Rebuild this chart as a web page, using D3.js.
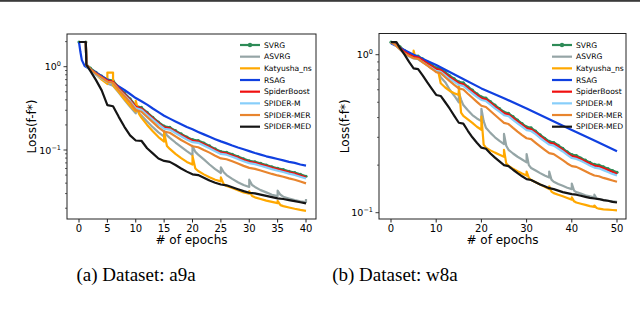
<!DOCTYPE html>
<html>
<head>
<meta charset="utf-8">
<script src="https://cdn.jsdelivr.net/npm/d3@7"></script>
<style>
  body { margin: 0; background: #fff; }
  svg { display: block; }
</style>
</head>
<body>
<div id="chart"></div>
<script>

/* DATA ------------------------------------------------------------ */

const names = ["SVRG", "ASVRG", "Katyusha_ns", "RSAG", "SpiderBoost", "SPIDER-M", "SPIDER-MER", "SPIDER-MED"];
const colors = ["#2e8b57", "#95a5a6", "#ffa800", "#1040e0", "#f01010", "#87cefa", "#e8852e", "#151515"];

// (a) a9a
const xTicksA = [0, 5, 10, 15, 20, 25, 30, 35, 40];
const epochsA = [0, 1.2, 1.3, 2, 3, 4, 5, 6, 7, 8, 9, 10, 11, 12, 13, 14, 15, 16, 17, 18, 19, 20,
                 21, 22, 23, 24, 25, 26, 27, 28, 29, 30, 31, 32, 33, 34, 35, 36, 37, 38, 39, 40];
const svrgA = [1.98, 1.98, 1.07, 0.96, 0.855, 0.77, 0.70, 0.68, 0.567, 0.484, 0.412, 0.34, 0.324, 0.283, 0.247, 0.216,
               0.193, 0.187, 0.171, 0.156, 0.143, 0.133, 0.13, 0.121, 0.112, 0.103, 0.096, 0.094, 0.0886, 0.0834, 0.0783,
               0.0742, 0.0721, 0.069, 0.0659, 0.0628, 0.0604, 0.0581, 0.0556, 0.0536, 0.051, 0.0484];
const spiderBoostA = [1.98, 1.98, 1.05, 0.93, 0.83, 0.75, 0.68, 0.66, 0.55, 0.47, 0.4, 0.33, 0.315, 0.275, 0.24, 0.21,
               0.187, 0.182, 0.166, 0.151, 0.139, 0.129, 0.126, 0.117, 0.109, 0.1, 0.093, 0.091, 0.086, 0.081, 0.076,
               0.072, 0.07, 0.067, 0.064, 0.061, 0.0586, 0.0564, 0.054, 0.052, 0.0495, 0.047];
const spiderMA = [1.98, 1.98, 1.03, 0.9, 0.8, 0.724, 0.656, 0.637, 0.531, 0.454, 0.386, 0.318, 0.304, 0.265, 0.232, 0.203,
               0.18, 0.176, 0.16, 0.146, 0.134, 0.124, 0.122, 0.113, 0.105, 0.0965, 0.0897, 0.0878, 0.083, 0.0782, 0.0733,
               0.0695, 0.0676, 0.0647, 0.0618, 0.0589, 0.0565, 0.0544, 0.0521, 0.0502, 0.0478, 0.0454];
const spiderMERA = [1.98, 1.98, 1.04, 0.93, 0.82, 0.74, 0.66, 0.64, 0.525, 0.445, 0.372, 0.302, 0.288, 0.249, 0.216, 0.187,
               0.166, 0.161, 0.146, 0.132, 0.121, 0.111, 0.108, 0.1, 0.093, 0.0855, 0.0793, 0.0775, 0.0731, 0.0688, 0.0645,
               0.061, 0.0593, 0.0567, 0.0541, 0.0516, 0.0495, 0.0477, 0.0456, 0.044, 0.0418, 0.0398];
const spiderMEDA = [1.98, 1.98, 1.05, 0.89, 0.69, 0.52, 0.345, 0.335, 0.25, 0.19, 0.15, 0.13, 0.129, 0.105, 0.091, 0.079,
               0.074, 0.072, 0.066, 0.06, 0.055, 0.051, 0.05, 0.0465, 0.043, 0.0405, 0.0385, 0.0377, 0.0357, 0.0338, 0.0321,
               0.0307, 0.0302, 0.0291, 0.0281, 0.0272, 0.0263, 0.0258, 0.025, 0.0243, 0.0236, 0.0229];
const rsagEpochsA = [0, 0.25, 0.5, 1, 2, 3, 4, 5, 6, 7, 8, 9, 10, 11, 12, 13, 14, 15, 16, 17, 18, 19, 20,
                 21, 22, 23, 24, 25, 26, 27, 28, 29, 30, 31, 32, 33, 34, 35, 36, 37, 38, 39, 40];
const rsagA = [1.98, 1.5, 1.2, 1.02, 0.93, 0.85, 0.77, 0.7, 0.64, 0.58, 0.525, 0.47, 0.42, 0.385, 0.35, 0.315, 0.285,
               0.258, 0.238, 0.22, 0.204, 0.189, 0.177, 0.165, 0.154, 0.144, 0.135, 0.127, 0.12, 0.113, 0.107, 0.102,
               0.097, 0.092, 0.088, 0.084, 0.081, 0.078, 0.075, 0.072, 0.07, 0.067, 0.065];
const katyushaA = [[0, 1.98], [1.2, 1.98], [1.3, 1.05], [2, 0.93], [3, 0.8], [4, 0.7], [5, 0.62], [5, 0.85], [6, 0.85],
  [6, 0.6], [7, 0.5], [8, 0.41], [9, 0.34], [10, 0.29], [10, 0.39], [10.6, 0.27], [11, 0.245], [12, 0.2], [13, 0.168],
  [14, 0.143], [15, 0.126], [15, 0.162], [15.5, 0.112], [16, 0.103], [17, 0.09], [18, 0.08], [19, 0.072], [20, 0.067],
  [20, 0.085], [20.5, 0.06], [21, 0.056], [22, 0.051], [23, 0.047], [24, 0.044], [25, 0.042], [25, 0.047], [25.5, 0.039],
  [26, 0.037], [27, 0.035], [28, 0.033], [29, 0.031], [30, 0.030], [30, 0.032], [30.5, 0.028], [31, 0.027], [32, 0.0258],
  [33, 0.0247], [34, 0.0238], [35, 0.023], [35, 0.0245], [35.5, 0.0218], [36, 0.0212], [37, 0.0204], [38, 0.0197],
  [39, 0.0191], [40, 0.0186]];
const asvrgA = [[0, 1.98], [1.2, 1.98], [1.3, 1.05], [2, 0.93], [3, 0.82], [4, 0.72], [5, 0.63], [6, 0.59], [7, 0.49],
  [8, 0.4], [9, 0.33], [10, 0.275], [10, 0.33], [10.5, 0.28], [11, 0.26], [12, 0.22], [13, 0.188], [14, 0.163], [15, 0.145],
  [15, 0.17], [15.5, 0.15], [16, 0.14], [17, 0.123], [18, 0.109], [19, 0.097], [20, 0.087], [20, 0.112], [20.5, 0.095],
  [21, 0.088], [22, 0.077], [23, 0.067], [24, 0.059], [25, 0.053], [25, 0.062], [25.5, 0.054], [26, 0.05], [27, 0.045],
  [28, 0.041], [29, 0.038], [30, 0.036], [30, 0.044], [30.5, 0.038], [31, 0.036], [32, 0.033], [33, 0.031], [34, 0.029],
  [35, 0.028], [35, 0.0325], [35.5, 0.029], [36, 0.0275], [37, 0.0262], [38, 0.025], [39, 0.0242], [40, 0.0237], [40, 0.0258]];

// (b) w8a
const xTicksB = [0, 10, 20, 30, 40, 50];
const epochsB = d3.range(0, 51);
const svrgB = [1.2, 1.19, 1.12, 1.06, 1.02, 0.99, 0.98, 0.94, 0.9, 0.862, 0.826, 0.816, 0.775, 0.734, 0.704, 0.673, 0.663,
               0.627, 0.597, 0.566, 0.541, 0.532, 0.505, 0.479, 0.456, 0.434, 0.426, 0.405, 0.385, 0.366, 0.349, 0.344,
               0.328, 0.311, 0.296, 0.283, 0.278, 0.267, 0.255, 0.243, 0.233, 0.23, 0.222, 0.215, 0.208, 0.202, 0.2,
               0.195, 0.19, 0.185, 0.18];
const spiderBoostB = [1.2, 1.17, 1.1, 1.04, 1.0, 0.97, 0.96, 0.92, 0.88, 0.845, 0.81, 0.8, 0.76, 0.72, 0.69, 0.66, 0.65,
               0.615, 0.585, 0.555, 0.53, 0.522, 0.495, 0.47, 0.447, 0.425, 0.418, 0.397, 0.377, 0.359, 0.342, 0.337,
               0.322, 0.305, 0.29, 0.277, 0.273, 0.262, 0.25, 0.238, 0.228, 0.225, 0.218, 0.211, 0.204, 0.198, 0.196,
               0.191, 0.186, 0.181, 0.176];
const spiderMB = [1.2, 1.15, 1.08, 1.015, 0.975, 0.946, 0.936, 0.897, 0.858, 0.824, 0.79, 0.78, 0.741, 0.702, 0.673, 0.644,
               0.634, 0.6, 0.57, 0.541, 0.517, 0.509, 0.483, 0.458, 0.436, 0.414, 0.408, 0.387, 0.368, 0.35, 0.333, 0.329,
               0.314, 0.297, 0.283, 0.27, 0.266, 0.255, 0.244, 0.232, 0.222, 0.219, 0.213, 0.206, 0.199, 0.193, 0.191,
               0.186, 0.181, 0.176, 0.172];
const spiderMERB = [1.2, 1.15, 1.08, 1.02, 0.98, 0.95, 0.94, 0.895, 0.855, 0.815, 0.775, 0.765, 0.72, 0.68, 0.645, 0.612,
               0.602, 0.566, 0.534, 0.503, 0.475, 0.467, 0.44, 0.415, 0.392, 0.37, 0.364, 0.344, 0.326, 0.31, 0.296, 0.292,
               0.277, 0.263, 0.25, 0.238, 0.235, 0.225, 0.215, 0.205, 0.197, 0.195, 0.189, 0.183, 0.177, 0.172, 0.17,
               0.166, 0.163, 0.16, 0.157];
const medEpochsB = [0, 1.2, 2, 3, 4, 5, 6, 7, 8, 9, 10, 11, 12, 13, 14, 15, 16, 17, 18, 19, 20, 21, 22, 23, 24, 25,
               26, 27, 28, 29, 30, 31, 32, 33, 34, 35, 36, 37, 38, 39, 40, 41, 42, 43, 44, 45, 46, 47, 48, 49, 50];
const spiderMEDB = [1.2, 1.2, 1.1, 1.0, 0.9, 0.82, 0.81, 0.74, 0.67, 0.61, 0.556, 0.548, 0.5, 0.455, 0.41, 0.371, 0.366,
               0.33, 0.3, 0.277, 0.258, 0.254, 0.237, 0.223, 0.211, 0.2, 0.197, 0.187, 0.178, 0.17, 0.163, 0.161, 0.156,
               0.151, 0.147, 0.143, 0.141, 0.138, 0.135, 0.133, 0.131, 0.13, 0.128, 0.126, 0.124, 0.123, 0.122, 0.12,
               0.119, 0.117, 0.116];
const rsagEpochsB = [0, 5, 10, 15, 20, 25, 30, 35, 40, 45, 50];
const rsagB = [1.18, 1.0, 0.86, 0.725, 0.612, 0.53, 0.457, 0.39, 0.334, 0.286, 0.245];
const katyushaB = [[0, 1.2], [1, 1.17], [2, 1.1], [3, 1.05], [4, 1.0], [5, 0.97], [5, 1.06], [5.4, 0.96], [6, 0.94],
  [7, 0.9], [8, 0.86], [9, 0.82], [10, 0.79], [10.5, 0.77], [11, 0.66], [12, 0.62], [13, 0.59], [14, 0.57], [15, 0.555],
  [15, 0.64], [15.5, 0.43], [16, 0.41], [17, 0.39], [18, 0.37], [19, 0.35], [20, 0.335], [20, 0.405], [20.5, 0.27],
  [21, 0.258], [22, 0.248], [23, 0.24], [24, 0.233], [25, 0.226], [25, 0.25], [25.5, 0.205], [26, 0.198], [27, 0.19],
  [28, 0.183], [29, 0.177], [30, 0.172], [30, 0.182], [30.5, 0.166], [31, 0.161], [32, 0.156], [33, 0.151], [34, 0.146],
  [35, 0.141], [35, 0.147], [35.5, 0.136], [36, 0.133], [37, 0.13], [38, 0.127], [39, 0.124], [40, 0.121], [40, 0.125],
  [40.5, 0.118], [41, 0.116], [42, 0.114], [43, 0.112], [44, 0.11], [45, 0.109], [45, 0.111], [45.5, 0.107], [46, 0.106],
  [47, 0.105], [48, 0.1045], [49, 0.104], [50, 0.1035]];
const asvrgB = [[0, 1.2], [1, 1.16], [2, 1.09], [3, 1.03], [4, 0.99], [5, 0.955], [6, 0.94], [7, 0.9], [8, 0.86],
  [9, 0.82], [10, 0.785], [10.5, 0.77], [11, 0.72], [12, 0.67], [13, 0.6], [14, 0.55], [15, 0.5], [15, 0.58], [15.5, 0.52],
  [16, 0.48], [17, 0.445], [18, 0.415], [19, 0.395], [20, 0.38], [20, 0.455], [20.5, 0.38], [21, 0.345], [22, 0.32],
  [23, 0.3], [24, 0.285], [25, 0.272], [25, 0.315], [25.5, 0.265], [26, 0.25], [27, 0.237], [28, 0.226], [29, 0.217],
  [30, 0.208], [30, 0.235], [30.5, 0.2], [31, 0.192], [32, 0.185], [33, 0.178], [34, 0.172], [35, 0.167], [35, 0.182],
  [35.5, 0.162], [36, 0.157], [37, 0.152], [38, 0.148], [39, 0.144], [40, 0.141], [40, 0.153], [40.5, 0.138], [41, 0.135],
  [42, 0.132], [43, 0.129], [44, 0.127], [45, 0.125], [45, 0.13], [45.5, 0.123], [46, 0.122], [47, 0.12], [48, 0.119],
  [49, 0.118], [50, 0.117]];

const zip = (xs, ys) => ys.map((y, i) => [xs[i], y]);

/* LAYOUT ---------------------------------------------------------- */

const width = 640, height = 328;

const panels = [
  {
    box: {left: 67, right: 316, top: 34, bottom: 219},
    xAnchor: [0, 40], xPx: [79, 306],
    yPx: [150, 66.7],          // pixel of 0.1 and 1
    xTicks: xTicksA,
    legend: {x: 240, y: 45},
    labelX: 32,
    caption: "(a) Dataset: a9a", captionX: 136,
    series: [zip(epochsA, svrgA), asvrgA, katyushaA, zip(rsagEpochsA, rsagA),
             zip(epochsA, spiderBoostA), zip(epochsA, spiderMA), zip(epochsA, spiderMERA), zip(epochsA, spiderMEDA)]
  },
  {
    box: {left: 379, right: 626, top: 33.5, bottom: 219},
    xAnchor: [0, 50], xPx: [391, 617],
    yPx: [212.7, 54.7],
    xTicks: xTicksB,
    legend: {x: 552, y: 45},
    labelX: 345,
    caption: "(b) Dataset: w8a", captionX: 395,
    series: [zip(epochsB, svrgB), asvrgB, katyushaB, zip(rsagEpochsB, rsagB),
             zip(epochsB, spiderBoostB), zip(epochsB, spiderMB), zip(epochsB, spiderMERB), zip(medEpochsB, spiderMEDB)]
  }
];

const svg = d3.select("#chart")
  .append("svg")
  .attr("width", width)
  .attr("height", height)
  .style("font-family", "'DejaVu Sans', sans-serif");

// rule at the top of the page
svg.append("rect")
  .attr("x", 0).attr("y", 0)
  .attr("width", width).attr("height", 1.8)
  .attr("fill", "#3a3a3a");

panels.forEach((p, k) => drawPanel(p, k));

/* DRAW ------------------------------------------------------------ */
function drawPanel(p, k) {
  const b = p.box;
  const x = d3.scaleLinear().domain(p.xAnchor).range(p.xPx);
  const y = d3.scaleLog().domain([0.1, 1]).range(p.yPx);

  const g = svg.append("g");

  g.append("clipPath").attr("id", "clip" + k)
    .append("rect")
    .attr("x", b.left).attr("y", b.top)
    .attr("width", b.right - b.left).attr("height", b.bottom - b.top);

  // lines
  const line = d3.line().x(d => x(d[0])).y(d => y(d[1]));
  const plot = g.append("g").attr("clip-path", `url(#clip${k})`);

  p.series.forEach((s, i) => {
    plot.append("path")
      .datum(s)
      .attr("d", line)
      .attr("fill", "none")
      .attr("stroke", colors[i])
      .attr("stroke-width", 2.2)
      .attr("stroke-linejoin", "round");
    if (i === 0) {
      plot.selectAll(".mk" + k)
        .data(s)
        .join("circle")
        .attr("class", "mk" + k)
        .attr("cx", d => x(d[0]))
        .attr("cy", d => y(d[1]))
        .attr("r", 1.6)
        .attr("fill", colors[0]);
    }
  });

  // frame
  g.append("rect")
    .attr("x", b.left).attr("y", b.top)
    .attr("width", b.right - b.left).attr("height", b.bottom - b.top)
    .attr("fill", "none")
    .attr("stroke", "#222")
    .attr("stroke-width", 1);

  // x ticks
  const xt = g.append("g");
  p.xTicks.forEach(t => {
    xt.append("line")
      .attr("x1", x(t)).attr("x2", x(t))
      .attr("y1", b.bottom).attr("y2", b.bottom + 3.5)
      .attr("stroke", "#222");
    xt.append("text")
      .attr("x", x(t)).attr("y", b.bottom + 12.5)
      .attr("text-anchor", "middle")
      .style("font-size", "10px")
      .text(t);
  });

  // y ticks (log): majors and minors inside the frame
  const yt = g.append("g");
  [-2, -1, 0].forEach(e => {
    d3.range(1, 10).forEach(m => {
      const v = m * Math.pow(10, e);
      const py = y(v);
      if (py < b.top || py > b.bottom) return;
      yt.append("line")
        .attr("x1", b.left).attr("x2", b.left - (m === 1 ? 3.5 : 2))
        .attr("y1", py).attr("y2", py)
        .attr("stroke", "#222")
        .attr("stroke-width", m === 1 ? 0.9 : 0.7);
      if (m === 1) {
        const txt = yt.append("text")
          .attr("x", b.left - 6).attr("y", py + 3.5)
          .attr("text-anchor", "end")
          .style("font-size", "9.5px");
        txt.append("tspan").text("10");
        txt.append("tspan")
          .attr("dy", -4)
          .style("font-size", "6.5px")
          .text(e === 0 ? "0" : "\u2212" + Math.abs(e));
      }
    });
  });

  // axis titles
  g.append("text")
    .attr("x", (b.left + b.right) / 2)
    .attr("y", b.bottom + 25)
    .attr("text-anchor", "middle")
    .style("font-size", "12px")
    .text("# of epochs");

  g.append("text")
    .attr("transform", `translate(${p.labelX + 4}, ${(b.top + b.bottom) / 2}) rotate(-90)`)
    .attr("text-anchor", "middle")
    .style("font-size", "12px")
    .text("Loss(f-f*)");

  // legend
  const lg = g.append("g");
  names.forEach((n, i) => {
    const ly = p.legend.y + i * 11.67;
    lg.append("line")
      .attr("x1", p.legend.x).attr("x2", p.legend.x + 20)
      .attr("y1", ly).attr("y2", ly)
      .attr("stroke", colors[i])
      .attr("stroke-width", 2.2);
    if (i === 0) {
      lg.append("circle")
        .attr("cx", p.legend.x + 10).attr("cy", ly).attr("r", 2.2)
        .attr("fill", colors[0]);
    }
    lg.append("text")
      .attr("x", p.legend.x + 24).attr("y", ly + 2.8)
      .style("font-size", "7.6px")
      .text(n);
  });

  // caption
  svg.append("text")
    .attr("x", p.captionX).attr("y", 281)
    .attr("text-anchor", "middle")
    .style("font-family", "'Liberation Serif', 'Times New Roman', serif")
    .style("font-size", "19px")
    .text(p.caption);
}
</script>
</body>
</html>
